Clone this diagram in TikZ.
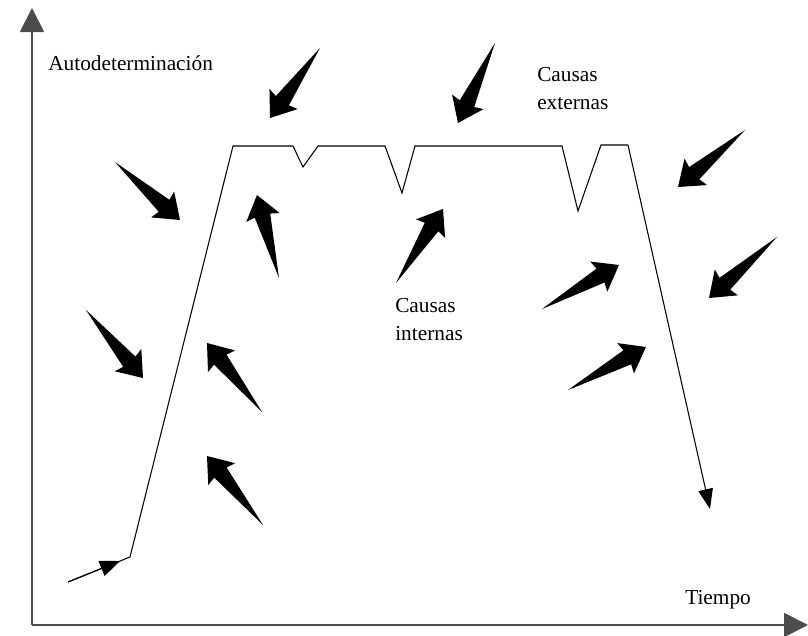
\documentclass[tikz,border=0pt]{standalone}
\usepackage{fontspec}
\setmainfont{Liberation Serif}
\usetikzlibrary{arrows.meta,calc}

\tikzset{
  axisline/.style={draw=black!70, line width=1.4pt, -{Triangle[length=18pt,width=18pt]}},
  curveline/.style={draw=black, line width=0.8pt, line join=miter},
  lbl/.style={anchor=north west, inner sep=0pt, align=left, font=\fontsize{16}{21}\selectfont},
}

% block arrow: tail point, tip point
\newcommand{\blockarrow}[2]{%
  \path (#2) coordinate (ba tip) (#1) coordinate (ba tail);
  \path ($(ba tip)!16pt!(ba tail)$) coordinate (ba neck);
  \path ($(ba tip)!17.5pt!(ba tail)$) coordinate (ba barb);
  \fill (ba tail) -- ($(ba neck)!6pt!90:(ba tip)$) -- ($(ba barb)!13pt!-90:(ba tail)$) -- (ba tip)
    -- ($(ba barb)!13pt!90:(ba tail)$) -- ($(ba neck)!6pt!-90:(ba tip)$) -- cycle;
}

\begin{document}
\begin{tikzpicture}[x=0.75pt,y=0.75pt,yscale=-1,xscale=1]
\useasboundingbox (0,0) rectangle (808,636);

%Axes
\coordinate (o) at (32,625);
\coordinate (ytop) at (32,8);
\coordinate (xend) at (808,625);
\draw [axisline] (o) -- (ytop);
\draw [axisline] (o) -- (xend);

%Curve points
\coordinate (p0) at (68,582);
\coordinate (p1) at (130,557);
\coordinate (p2) at (233,146);
\coordinate (p3) at (293,146);
\coordinate (p4) at (303,167);
\coordinate (p5) at (318,146);
\coordinate (p6) at (385,146);
\coordinate (p7) at (402,193);
\coordinate (p8) at (415,146);
\coordinate (p9) at (562,146);
\coordinate (p10) at (578,211);
\coordinate (p11) at (601,145);
\coordinate (p12) at (628,145);
\coordinate (p13) at (710,509);

%Curve
\draw [curveline] (p0) -- (p1) -- (p2) -- (p3) -- (p4) -- (p5) -- (p6) -- (p7) -- (p8)
  -- (p9) -- (p10) -- (p11) -- (p12);
\draw [curveline, -{Triangle[length=15pt,width=11pt]}] (p12) -- (p13);
\draw [curveline, -{Triangle[length=15pt,width=12pt]}] (p0) -- ($(p0)!0.84!(p1)$) coordinate (p0a);

%Shape: Block Arrows (causas externas)
\blockarrow{320,48}{270,118}
\blockarrow{495,43}{458,123}
\blockarrow{745,130}{678,187}
\blockarrow{777,237}{709,298}
\blockarrow{115,162}{180,220}
\blockarrow{86,310}{143,378}

%Shape: Block Arrows (causas internas)
\blockarrow{542,309}{619,265}
\blockarrow{568,390}{646,347}
\blockarrow{396,283}{443,209}
\blockarrow{279,278}{257,195}
\blockarrow{262,412}{207,343}
\blockarrow{263,525}{207,456}

% Text Node
\node [lbl] (auto) at (48,55) {Autodeterminación};
% Text Node
\node [lbl] (cext) at (537,67) {Causas\\externas};
% Text Node
\node [lbl] (cint) at (395,298) {Causas\\internas};
% Text Node
\node [lbl] (tiempo) at (685,590) {Tiempo};

\end{tikzpicture}
\end{document}
